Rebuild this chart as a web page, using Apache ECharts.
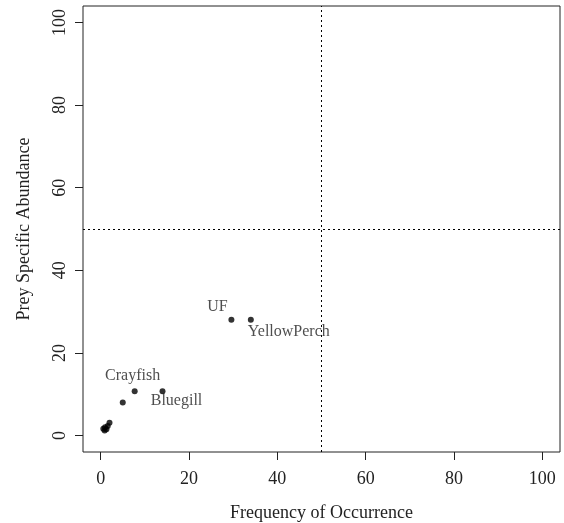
<!DOCTYPE html>
<html>
<head>
<meta charset="utf-8">
<script src="https://cdn.jsdelivr.net/npm/echarts@6/dist/echarts.min.js"></script>
<style>html,body{margin:0;padding:0;background:#fff}#c{width:564px;height:523px}</style>
</head>
<body>
<div id="c"></div>
<script>
// Data
const preyNames = ["UF", "YellowPerch", "Bluegill", "Crayfish", "", "", "", "", "", "", ""];
const freqOcc   = [29.6, 34.0, 14.0, 7.7, 5.0, 2.0, 1.6, 1.0, 0.6, 1.3, 0.9];
const preySA    = [28.0, 28.0, 10.7, 10.7, 8.0, 3.1, 2.3, 2.0, 1.6, 1.5, 1.2];
const xTicks = [0, 20, 40, 60, 80, 100];
const yTicks = [0, 20, 40, 60, 80, 100];
const refX = 50, refY = 50;

// label placement (offsets in px)
const labelOffsets = {
  "UF": [-14, -13],
  "YellowPerch": [38, 12],
  "Bluegill": [14, 10],
  "Crayfish": [-2, -15]
};

const font = "Liberation Serif";
const pts = freqOcc.map((x, i) => {
  const nm = preyNames[i];
  const item = { value: [x, preySA[i]], name: nm };
  if (nm && labelOffsets[nm]) {
    item.label = { show: true, formatter: nm, position: 'inside', offset: labelOffsets[nm] };
  }
  return item;
});

const chart = echarts.init(document.getElementById('c'), null, { renderer: 'canvas' });
chart.setOption({
  animation: false,
  grid: { left: 83, right: 4, top: 6, bottom: 71, outerBoundsMode: 'none', containLabel: false, show: true, borderColor: '#222', borderWidth: 1, backgroundColor: 'transparent' },
  xAxis: {
    type: 'value', min: -4, max: 104,
    name: 'Frequency of Occurrence', nameLocation: 'middle', nameGap: 52,
    nameTextStyle: { fontFamily: font, fontSize: 18, color: '#222' },
    axisLine: { show: false, onZero: false },
    axisTick: { show: true, length: 8, inside: false, customValues: xTicks, lineStyle: { color: '#222' } },
    axisLabel: { customValues: xTicks, fontFamily: font, fontSize: 18, color: '#222', margin: 18 },
    splitLine: { show: false }
  },
  yAxis: {
    type: 'value', min: -4, max: 104,
    name: 'Prey Specific Abundance', nameLocation: 'middle', nameGap: 50,
    nameTextStyle: { fontFamily: font, fontSize: 18, color: '#222' },
    axisLine: { show: false, onZero: false },
    axisTick: { show: true, length: 8, inside: false, customValues: yTicks, lineStyle: { color: '#222' } },
    axisLabel: { customValues: yTicks, fontFamily: font, fontSize: 18, color: '#222', margin: 14, rotate: 90 },
    splitLine: { show: false }
  },
  series: [{
    type: 'scatter',
    symbol: 'circle', symbolSize: 6,
    itemStyle: { color: '#000' },
    label: { show: false, fontFamily: font, fontSize: 16, color: '#222' },
    data: pts,
    markLine: {
      silent: true, symbol: 'none',
      lineStyle: { color: '#000', type: [2, 3], width: 1 },
      label: { show: false },
      data: [{ xAxis: refX }, { yAxis: refY }]
    },
    z: 3
  }]
});
</script>
</body>
</html>
